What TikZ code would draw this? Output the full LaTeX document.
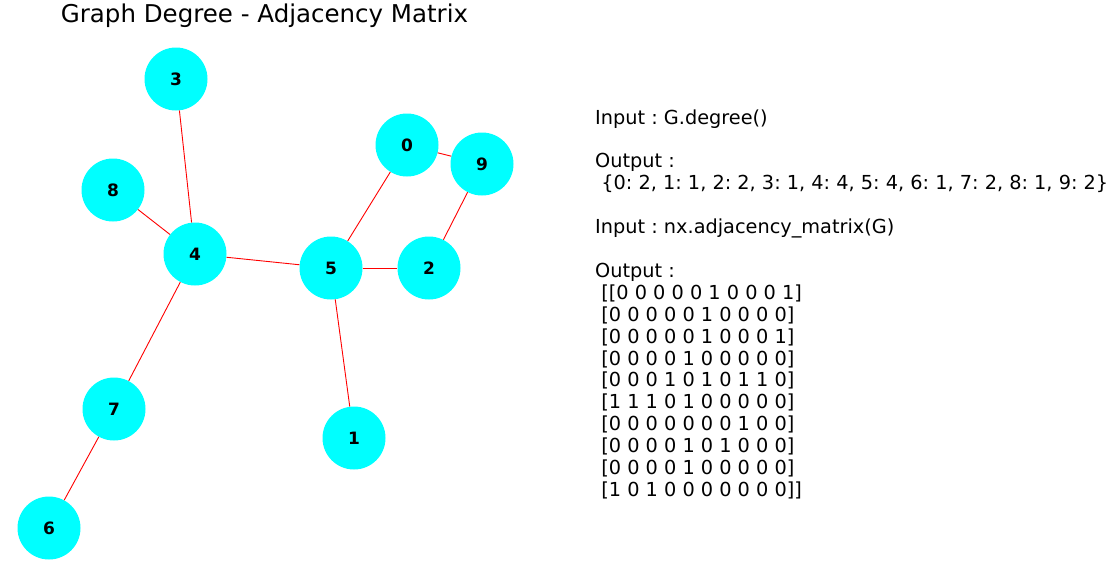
\documentclass[tikz,border=0pt]{standalone}
\usepackage{fontspec}
\setmainfont{DejaVu Sans}
\definecolor{nodecyan}{RGB}{0,255,255}
\frenchspacing
\begin{document}
\begin{tikzpicture}[x=1pt,y=-1pt,
  vtx/.style={circle,fill=nodecyan,minimum size=63pt,inner sep=0pt,font=\fontsize{17}{17}\selectfont\bfseries},
  edge/.style={red,line width=0.9pt}]
\useasboundingbox (0,0) rectangle (1115,581);
\node[vtx] (n3) at (176,79) {3};
\node[vtx] (n0) at (407,145) {0};
\node[vtx] (n9) at (482,164) {9};
\node[vtx] (n8) at (113,190) {8};
\node[vtx] (n4) at (195,254) {4};
\node[vtx] (n5) at (331,268) {5};
\node[vtx] (n2) at (429,268) {2};
\node[vtx] (n7) at (114,409) {7};
\node[vtx] (n1) at (354,438) {1};
\node[vtx] (n6) at (49,528) {6};
\draw[edge] (n3) -- (n4);
\draw[edge] (n8) -- (n4);
\draw[edge] (n4) -- (n5);
\draw[edge] (n4) -- (n7);
\draw[edge] (n7) -- (n6);
\draw[edge] (n5) -- (n0);
\draw[edge] (n5) -- (n2);
\draw[edge] (n5) -- (n1);
\draw[edge] (n0) -- (n9);
\draw[edge] (n9) -- (n2);
\node[font=\fontsize{24.5}{24.5}\selectfont] (title) at (264.5,16) {Graph Degree - Adjacency Matrix};
\node[anchor=north west,inner sep=0pt,align=left,font=\fontsize{19.3}{21.9}\selectfont] (txt) at (595,109.3) {Input : G.degree()\\[21.9pt]
Output :\\
\ \{0: 2, 1: 1, 2: 2, 3: 1, 4: 4, 5: 4, 6: 1, 7: 2, 8: 1, 9: 2\}\\[21.9pt]
Input : nx.adjacency\_matrix(G)\\[21.9pt]
Output :\\
\ [[0 0 0 0 0 1 0 0 0 1]\\
\ [0 0 0 0 0 1 0 0 0 0]\\
\ [0 0 0 0 0 1 0 0 0 1]\\
\ [0 0 0 0 1 0 0 0 0 0]\\
\ [0 0 0 1 0 1 0 1 1 0]\\
\ [1 1 1 0 1 0 0 0 0 0]\\
\ [0 0 0 0 0 0 0 1 0 0]\\
\ [0 0 0 0 1 0 1 0 0 0]\\
\ [0 0 0 0 1 0 0 0 0 0]\\
\ [1 0 1 0 0 0 0 0 0 0]]};
\end{tikzpicture}
\end{document}
